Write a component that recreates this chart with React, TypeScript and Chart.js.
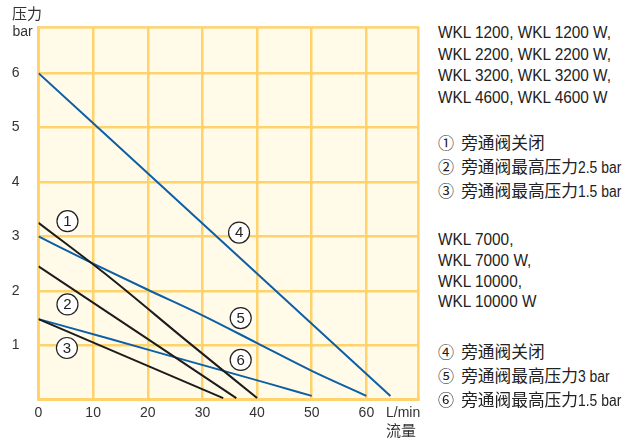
import React, { useEffect, useRef } from 'react';
import { Chart, registerables } from 'chart.js';

Chart.register(...registerables);

// ---- data ----
const xTickValues = [0, 10, 20, 30, 40, 50, 60];
const yTickValues = [1, 2, 3, 4, 5, 6];

const curve1Flow = [0, 13, 27, 40];
const curve1Pressure = [3.25, 2.25, 1.09, 0.03];
const curve2Flow = [0, 36.2];
const curve2Pressure = [2.45, 0.03];
const curve3Flow = [0, 33.8];
const curve3Pressure = [1.48, 0.03];
const curve4Flow = [0, 64.4];
const curve4Pressure = [6.0, 0.07];
const curve5Flow = [0, 10, 20, 30, 40, 50, 60];
const curve5Pressure = [3.0, 2.5, 2.02, 1.55, 1.04, 0.53, 0.07];
const curve6Flow = [0, 13, 26, 42, 50];
const curve6Pressure = [1.48, 1.12, 0.75, 0.3, 0.07];

const markerText = ['1', '2', '3', '4', '5', '6'];
const markerFlow = [5.3, 5.3, 5.2, 36.7, 37, 37];
const markerPressure = [3.28, 1.75, 0.95, 3.07, 1.5, 0.73];

const groupA = ['WKL 1200, WKL 1200 W,', 'WKL 2200, WKL 2200 W,', 'WKL 3200, WKL 3200 W,', 'WKL 4600, WKL 4600 W'];
const groupALegend = [
  { mark: '①', cjk: '旁通阀关闭', latin: '' },
  { mark: '②', cjk: '旁通阀最高压力', latin: '2.5 bar' },
  { mark: '③', cjk: '旁通阀最高压力', latin: '1.5 bar' },
];
const groupB = ['WKL 7000,', 'WKL 7000 W,', 'WKL 10000,', 'WKL 10000 W'];
const groupBLegend = [
  { mark: '④', cjk: '旁通阀关闭', latin: '' },
  { mark: '⑤', cjk: '旁通阀最高压力', latin: '3 bar' },
  { mark: '⑥', cjk: '旁通阀最高压力', latin: '1.5 bar' },
];

const BLUE = '#0d5fa6';
const BLACK = '#1c1c1c';
const GRID = '#ffd26c';
const BG = '#fffbe8';
const LATIN = "'Liberation Sans', Arial, sans-serif";
const CJK = "'Noto Sans CJK SC', sans-serif";

const toPoints = (xs: number[], ys: number[]) => xs.map((v, i) => ({ x: v, y: ys[i] }));

const curves = [
  { xs: curve1Flow, ys: curve1Pressure, color: BLACK },
  { xs: curve2Flow, ys: curve2Pressure, color: BLACK },
  { xs: curve3Flow, ys: curve3Pressure, color: BLACK },
  { xs: curve4Flow, ys: curve4Pressure, color: BLUE },
  { xs: curve5Flow, ys: curve5Pressure, color: BLUE },
  { xs: curve6Flow, ys: curve6Pressure, color: BLUE },
];

const areaPlugin = {
  id: 'areaPlugin',
  beforeDraw(chart: any) {
    const { ctx, chartArea: a } = chart;
    ctx.save();
    ctx.fillStyle = BG;
    ctx.fillRect(a.left, a.top, a.right - a.left, a.bottom - a.top);
    ctx.restore();
  },
  beforeDatasetsDraw(chart: any) {
    const { ctx, chartArea: a } = chart;
    ctx.save();
    ctx.strokeStyle = GRID;
    ctx.lineWidth = 2.5;
    ctx.strokeRect(a.left, a.top, a.right - a.left, a.bottom - a.top);
    ctx.restore();
  },
  afterDatasetsDraw(chart: any) {
    const { ctx } = chart;
    const xs = chart.scales.x;
    const ys = chart.scales.y;
    ctx.save();
    markerText.forEach((t, i) => {
      const px = xs.getPixelForValue(markerFlow[i]);
      const py = ys.getPixelForValue(markerPressure[i]);
      ctx.beginPath();
      ctx.arc(px, py, 10.5, 0, Math.PI * 2);
      ctx.fillStyle = '#ffffff';
      ctx.fill();
      ctx.lineWidth = 1.2;
      ctx.strokeStyle = '#222';
      ctx.stroke();
      ctx.fillStyle = '#222';
      ctx.font = `15px ${LATIN}`;
      ctx.textAlign = 'center';
      ctx.textBaseline = 'middle';
      ctx.fillText(t, px, py + 0.5);
    });
    ctx.restore();
  },
};

const abs = (left: number, top: number, extra: React.CSSProperties = {}): React.CSSProperties => ({
  position: 'absolute',
  left,
  top,
  whiteSpace: 'nowrap',
  color: '#222',
  ...extra,
});

export default function App() {
  const ref = useRef<HTMLCanvasElement | null>(null);

  useEffect(() => {
    if (!ref.current) return;
    const chart = new Chart(ref.current, {
      type: 'scatter',
      data: {
        datasets: curves.map((c) => ({
          data: toPoints(c.xs, c.ys),
          showLine: true,
          borderColor: c.color,
          borderWidth: 2,
          pointRadius: 0,
          cubicInterpolationMode: 'monotone',
        })),
      },
      options: {
        animation: false,
        responsive: false,
        devicePixelRatio: 1,
        layout: { padding: { top: 23.3, right: 11.7, left: 0, bottom: 0 } },
        plugins: { legend: { display: false }, tooltip: { enabled: false } },
        scales: {
          x: {
            type: 'linear',
            min: 0,
            max: 69.5,
            afterBuildTicks: (s: any) => {
              s.ticks = xTickValues.map((v) => ({ value: v }));
            },
            afterFit: (s: any) => {
              s.height = 39.3;
            },
            ticks: {
              stepSize: 10,
              includeBounds: false,
              autoSkip: false,
              maxRotation: 0,
              color: '#333',
              padding: 5,
              font: { family: LATIN, size: 14 },
            },
            grid: { color: GRID, lineWidth: 2.5, drawTicks: false },
            border: { color: GRID, width: 2.5 },
          },
          y: {
            type: 'linear',
            min: 0,
            max: 6.84,
            afterBuildTicks: (s: any) => {
              s.ticks = [0, ...yTickValues].map((v) => ({ value: v }));
            },
            afterFit: (s: any) => {
              s.width = 38.5;
            },
            ticks: {
              stepSize: 1,
              includeBounds: false,
              autoSkip: false,
              color: '#333',
              padding: 19,
              font: { family: LATIN, size: 14 },
              callback: (v: any) => (v === 0 ? '' : String(v)),
            },
            grid: { color: GRID, lineWidth: 2.5, drawTicks: false },
            border: { color: GRID, width: 2.5 },
          },
        },
      } as any,
      plugins: [areaPlugin],
    });
    return () => chart.destroy();
  }, []);

  const latinRow = (text: string, center: number, key: string) => (
    <div
      key={key}
      style={abs(438, center - 10, {
        fontFamily: LATIN,
        fontSize: 16,
        lineHeight: '20px',
        transform: 'scaleX(0.96)',
        transformOrigin: 'left center',
      })}
    >
      {text}
    </div>
  );
  const legendRow = (r: { mark: string; cjk: string; latin: string }, center: number, key: string) => (
    <div key={key} style={abs(438, center - 11.5, { fontFamily: LATIN, fontSize: 15, lineHeight: '24px' })}>
      <span style={{ fontFamily: CJK, fontSize: 16, marginRight: 3 }}>{r.mark}</span>
      <span> </span>
      <span style={{ fontFamily: CJK, fontSize: 16.7 }}>{r.cjk}</span>
      {r.latin ? (
        <span
          style={{
            display: 'inline-block',
            fontSize: 16,
            transform: 'scaleX(0.87)',
            transformOrigin: 'left center',
          }}
        >
          {r.latin}
        </span>
      ) : null}
    </div>
  );

  const aCenters = [33, 54.5, 76, 97.5];
  const aLegCenters = [141.5, 165, 189];
  const bCenters = [240, 260.8, 281.6, 302.4];
  const bLegCenters = [350.5, 374, 398];

  return (
    <div style={{ position: 'absolute', left: 0, top: 0, width: 639, height: 439, background: '#fff', overflow: 'hidden' }}>
      <canvas ref={ref} width={430} height={439} style={{ position: 'absolute', left: 0, top: 0 }} />
      <div style={abs(12, 3, { fontFamily: CJK, fontSize: 15, lineHeight: '20px', color: '#333' })}>压力</div>
      <div style={abs(12.5, 24, { fontFamily: LATIN, fontSize: 14, lineHeight: '14px', color: '#333' })}>bar</div>
      <div style={abs(386, 402, { fontFamily: LATIN, fontSize: 14, lineHeight: '20px', color: '#333' })}>L/min</div>
      <div style={abs(386, 420, { fontFamily: CJK, fontSize: 15, lineHeight: '20px', color: '#333' })}>流量</div>
      {groupA.map((t, i) => latinRow(t, aCenters[i], 'a' + i))}
      {groupALegend.map((r, i) => legendRow(r, aLegCenters[i], 'al' + i))}
      {groupB.map((t, i) => latinRow(t, bCenters[i], 'b' + i))}
      {groupBLegend.map((r, i) => legendRow(r, bLegCenters[i], 'bl' + i))}
    </div>
  );
}
